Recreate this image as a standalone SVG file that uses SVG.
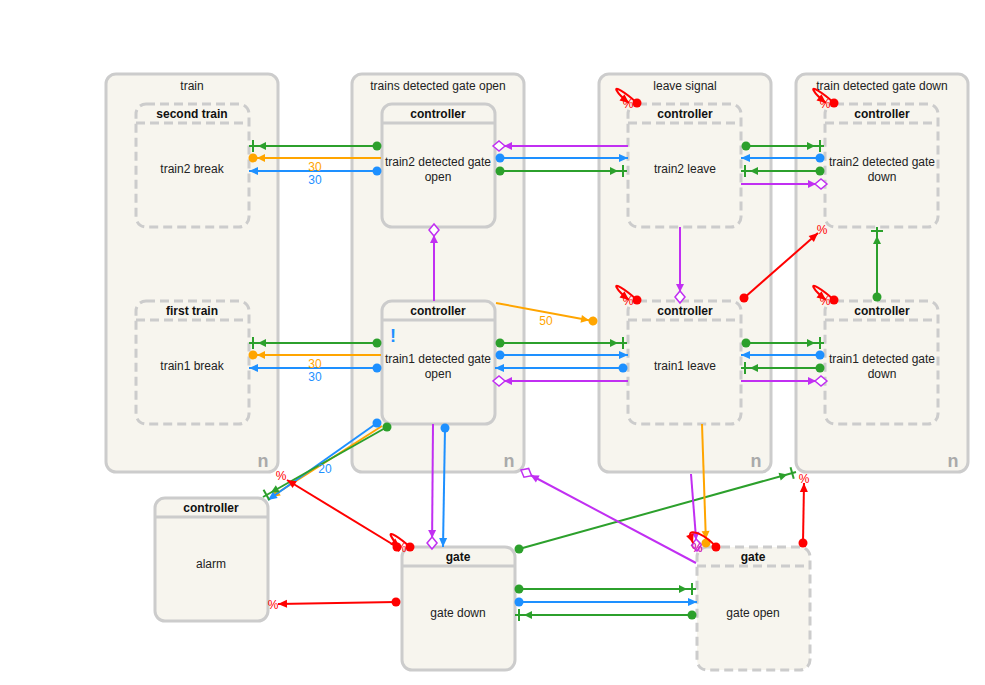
<svg xmlns="http://www.w3.org/2000/svg" width="985" height="685" viewBox="0 0 985 685">
<style>
text{font-family:"Liberation Sans",Arial,sans-serif;font-size:12px;fill:#222;text-anchor:middle}
.hd{font-weight:bold;fill:#111}
.cont{fill:#f7f5ee;stroke:#cccccc;stroke-width:3}
.node{fill:#f7f5ee;stroke:#cccccc;stroke-width:3}
.dash{stroke-dasharray:9,5}
.sep{stroke:#cccccc;stroke-width:3;fill:none}
.nn{font-size:18px;font-weight:bold;fill:#aaaaaa}
.e{fill:none;stroke-width:2}
.g{stroke:#2ca02c}.b{stroke:#1e90ff}.o{stroke:#ffa500}.p{stroke:#c12ff2}.r{stroke:#ff0000}
.tg{fill:#2ca02c}.tb{fill:#1e90ff}.to{fill:#ffa500}.tp{fill:#c12ff2}.tr{fill:#ff0000}
</style>
<defs>
<marker id="aG" markerUnits="userSpaceOnUse" orient="auto" markerWidth="40" markerHeight="30" viewBox="-30 -15 40 30" refX="0" refY="0"><path d="M0,0L-9,-4L-9,4Z" fill="#2ca02c"/></marker>
<marker id="aB" markerUnits="userSpaceOnUse" orient="auto" markerWidth="40" markerHeight="30" viewBox="-30 -15 40 30" refX="0" refY="0"><path d="M0,0L-9,-4L-9,4Z" fill="#1e90ff"/></marker>
<marker id="aO" markerUnits="userSpaceOnUse" orient="auto" markerWidth="40" markerHeight="30" viewBox="-30 -15 40 30" refX="0" refY="0"><path d="M0,0L-9,-4L-9,4Z" fill="#ffa500"/></marker>
<marker id="aP" markerUnits="userSpaceOnUse" orient="auto" markerWidth="40" markerHeight="30" viewBox="-30 -15 40 30" refX="0" refY="0"><path d="M0,0L-9,-4L-9,4Z" fill="#c12ff2"/></marker>
<marker id="aR" markerUnits="userSpaceOnUse" orient="auto" markerWidth="40" markerHeight="30" viewBox="-30 -15 40 30" refX="0" refY="0"><path d="M0,0L-9,-4L-9,4Z" fill="#ff0000"/></marker>
<marker id="abG" markerUnits="userSpaceOnUse" orient="auto" markerWidth="40" markerHeight="30" viewBox="-30 -15 40 30" refX="0" refY="0"><path d="M-4,-6L-4,6" stroke="#2ca02c" stroke-width="2"/><path d="M-9,0L-17,-4L-17,4Z" fill="#2ca02c"/></marker>
<marker id="daO" markerUnits="userSpaceOnUse" orient="auto" markerWidth="40" markerHeight="30" viewBox="-30 -15 40 30" refX="0" refY="0"><circle r="4.5" fill="#ffa500"/><path d="M-4,0L-12,-4L-12,4Z" fill="#ffa500"/></marker>
<marker id="dmP" markerUnits="userSpaceOnUse" orient="auto" markerWidth="40" markerHeight="30" viewBox="-30 -15 40 30" refX="0" refY="0"><path d="M-11,0L-19,-4L-19,4Z" fill="#c12ff2"/><path d="M0,0L-6,-5L-12,0L-6,5Z" fill="#ffffff" stroke="#c12ff2" stroke-width="1.5"/></marker>
<marker id="dG" markerUnits="userSpaceOnUse" markerWidth="12" markerHeight="12" viewBox="-6 -6 12 12" refX="0" refY="0"><circle r="4.5" fill="#2ca02c"/></marker>
<marker id="dB" markerUnits="userSpaceOnUse" markerWidth="12" markerHeight="12" viewBox="-6 -6 12 12" refX="0" refY="0"><circle r="4.5" fill="#1e90ff"/></marker>
<marker id="dR" markerUnits="userSpaceOnUse" markerWidth="12" markerHeight="12" viewBox="-6 -6 12 12" refX="0" refY="0"><circle r="4.5" fill="#ff0000"/></marker>
</defs>
<rect width="985" height="685" fill="#ffffff"/>

<g id="c-train"><rect class="cont" x="106" y="74" width="172" height="398" rx="10"/><text x="192" y="90">train</text><text class="nn" x="263" y="467">n</text></g>
<g id="c-open"><rect class="cont" x="352" y="74" width="172" height="398" rx="10"/><text x="438" y="90">trains detected gate open</text><text class="nn" x="509" y="467">n</text></g>
<g id="c-leave"><rect class="cont" x="599" y="74" width="172" height="398" rx="10"/><text x="685" y="90">leave signal</text><text class="nn" x="756" y="467">n</text></g>
<g id="c-down"><rect class="cont" x="796" y="74" width="172" height="398" rx="10"/><text x="882" y="90">train detected gate down</text><text class="nn" x="953" y="467">n</text></g>

<g id="n-second"><rect class="node dash" x="136" y="104" width="113" height="123" rx="10"/><path class="sep dash" d="M136,123H249"/><text class="hd" x="192" y="118">second train</text><text x="192" y="173">train2 break</text></g>
<g id="n-first"><rect class="node dash" x="136" y="301" width="113" height="123" rx="10"/><path class="sep dash" d="M136,320H249"/><text class="hd" x="192" y="315">first train</text><text x="192" y="370">train1 break</text></g>
<g id="n-t2open"><rect class="node" x="382" y="104" width="113" height="123" rx="10"/><path class="sep" d="M382,123H495"/><text class="hd" x="438" y="118">controller</text><text x="438" y="166">train2 detected gate</text><text x="438" y="181">open</text></g>
<g id="n-t1open"><rect class="node" x="382" y="301" width="113" height="123" rx="10"/><path class="sep" d="M382,320H495"/><text class="hd" x="438" y="315">controller</text><text x="438" y="363">train1 detected gate</text><text x="438" y="378">open</text><text x="393" y="342" style="font-size:18px;font-weight:bold;fill:#1e90ff">!</text></g>
<g id="n-t2leave"><rect class="node dash" x="628" y="104" width="113" height="123" rx="10"/><path class="sep dash" d="M628,123H741"/><text class="hd" x="685" y="118">controller</text><text x="685" y="173">train2 leave</text></g>
<g id="n-t1leave"><rect class="node dash" x="628" y="301" width="113" height="123" rx="10"/><path class="sep dash" d="M628,320H741"/><text class="hd" x="685" y="315">controller</text><text x="685" y="370">train1 leave</text></g>
<g id="n-t2down"><rect class="node dash" x="825" y="104" width="113" height="123" rx="10"/><path class="sep dash" d="M825,123H938"/><text class="hd" x="882" y="118">controller</text><text x="882" y="166">train2 detected gate</text><text x="882" y="181">down</text></g>
<g id="n-t1down"><rect class="node dash" x="825" y="301" width="113" height="123" rx="10"/><path class="sep dash" d="M825,320H938"/><text class="hd" x="882" y="315">controller</text><text x="882" y="363">train1 detected gate</text><text x="882" y="378">down</text></g>
<g id="n-alarm"><rect class="node" x="155" y="498" width="113" height="123" rx="10"/><path class="sep" d="M155,517H268"/><text class="hd" x="211" y="512">controller</text><text x="211" y="568">alarm</text></g>
<g id="n-gatedown"><rect class="node" x="402" y="547" width="113" height="123" rx="10"/><path class="sep" d="M402,566H515"/><text class="hd" x="458" y="561">gate</text><text x="458" y="617">gate down</text></g>
<g id="n-gateopen"><rect class="node dash" x="697" y="547" width="113" height="123" rx="10"/><path class="sep dash" d="M697,566H810"/><text class="hd" x="753" y="561">gate</text><text x="753" y="617">gate open</text></g>

<g id="edges">
<!-- train <-> controller -->
<path class="e g" d="M377,146L249,146" marker-start="url(#dG)" marker-end="url(#abG)"/>
<path class="e o" d="M381,158L253,158" marker-end="url(#daO)"/>
<path class="e b" d="M377,171L249,171" marker-start="url(#dB)" marker-end="url(#aB)"/>
<text class="to" x="315" y="171">30</text><text class="tb" x="315" y="184">30</text>
<path class="e g" d="M377,343L249,343" marker-start="url(#dG)" marker-end="url(#abG)"/>
<path class="e o" d="M381,355L253,355" marker-end="url(#daO)"/>
<path class="e b" d="M377,368L249,368" marker-start="url(#dB)" marker-end="url(#aB)"/>
<text class="to" x="315" y="368">30</text><text class="tb" x="315" y="381">30</text>
<!-- controller open <-> leave -->
<path class="e p" d="M628,146L493,146" marker-end="url(#dmP)"/>
<path class="e b" d="M500,158L628,158" marker-start="url(#dB)" marker-end="url(#aB)"/>
<path class="e g" d="M500,171L627,171" marker-start="url(#dG)" marker-end="url(#abG)"/>
<path class="e g" d="M500,343L627,343" marker-start="url(#dG)" marker-end="url(#abG)"/>
<path class="e b" d="M500,355L628,355" marker-start="url(#dB)" marker-end="url(#aB)"/>
<path class="e b" d="M623,368L495,368" marker-start="url(#dB)" marker-end="url(#aB)"/>
<path class="e p" d="M628,381L493,381" marker-end="url(#dmP)"/>
<!-- leave <-> down -->
<path class="e g" d="M746,146L824,146" marker-start="url(#dG)" marker-end="url(#abG)"/>
<path class="e b" d="M820,158L741,158" marker-start="url(#dB)" marker-end="url(#aB)"/>
<path class="e g" d="M820,171L741,171" marker-start="url(#dG)" marker-end="url(#abG)"/>
<path class="e p" d="M741,184L827,184" marker-end="url(#dmP)"/>
<path class="e g" d="M746,343L824,343" marker-start="url(#dG)" marker-end="url(#abG)"/>
<path class="e b" d="M820,355L741,355" marker-start="url(#dB)" marker-end="url(#aB)"/>
<path class="e g" d="M820,368L741,368" marker-start="url(#dG)" marker-end="url(#abG)"/>
<path class="e p" d="M741,381L827,381" marker-end="url(#dmP)"/>
<!-- verticals -->
<path class="e p" d="M434,301L434,224" marker-end="url(#dmP)"/>
<path class="e p" d="M680,227L680,303" marker-end="url(#dmP)"/>
<path class="e g" d="M877,297L877,227" marker-start="url(#dG)" marker-end="url(#abG)"/>
<path class="e r" d="M744,298L818,233" marker-start="url(#dR)" marker-end="url(#aR)"/>
<text class="tr" x="822" y="234">%</text>
<path class="e o" d="M496,303L593,321" marker-end="url(#daO)"/>
<text class="to" x="546" y="325">50</text>
<!-- self loops -->
<path class="e r" d="M637,103C625,92 613,85 617,91C619,95 624,99 629,103" marker-start="url(#dR)" marker-end="url(#aR)"/>
<text class="tr" x="628" y="108">%</text>
<path class="e r" d="M834,103C822,92 810,85 814,91C816,95 821,99 826,103" marker-start="url(#dR)" marker-end="url(#aR)"/>
<text class="tr" x="825" y="108">%</text>
<path class="e r" d="M637,300C625,289 613,282 617,288C619,292 624,296 629,300" marker-start="url(#dR)" marker-end="url(#aR)"/>
<text class="tr" x="628" y="305">%</text>
<path class="e r" d="M834,300C822,289 810,282 814,288C816,292 821,296 826,300" marker-start="url(#dR)" marker-end="url(#aR)"/>
<text class="tr" x="825" y="305">%</text>
<!-- bottom left -->
<path class="e o" d="M382,426L271,497" marker-end="url(#aO)"/>
<path class="e b" d="M377,423L268,500" marker-start="url(#dB)" marker-end="url(#aB)"/>
<path class="e g" d="M387,427L263,497" marker-start="url(#dG)" marker-end="url(#abG)"/>
<text class="tb" x="325" y="473">20</text>
<path class="e r" d="M397,547L287,480" marker-start="url(#dR)" marker-end="url(#aR)"/>
<text class="tr" x="281" y="480">%</text>
<path class="e r" d="M410,547C400,538 388,530 391,536C393,540 396,544 400,547" marker-start="url(#dR)" marker-end="url(#aR)"/>
<text class="tr" x="401" y="552">%</text>
<path class="e r" d="M396,602L278,604" marker-start="url(#dR)" marker-end="url(#aR)"/>
<text class="tr" x="273" y="609">%</text>
<path class="e p" d="M433,424L432,549" marker-end="url(#dmP)"/>
<path class="e b" d="M445,428L443,547" marker-start="url(#dB)" marker-end="url(#aB)"/>
<!-- bottom right -->
<path class="e g" d="M519,549L796,472" marker-start="url(#dG)" marker-end="url(#abG)"/>
<path class="e r" d="M803,543L804,483" marker-start="url(#dR)" marker-end="url(#aR)"/>
<text class="tr" x="804" y="483">%</text>
<path class="e p" d="M696,563L521,470" marker-end="url(#dmP)"/>
<path class="e p" d="M691,474L697,551" marker-end="url(#dmP)"/>
<path class="e o" d="M702,424L706,543" marker-end="url(#daO)"/>
<path class="e r" d="M716,547C706,535 690,528 690,535L693,543" marker-start="url(#dR)" marker-end="url(#aR)"/>
<text class="tr" x="697" y="552">%</text>
<text class="tp" x="697" y="552">%</text>
<path class="e g" d="M519,589L696,589" marker-start="url(#dG)" marker-end="url(#abG)"/>
<path class="e b" d="M519,602L697,602" marker-start="url(#dB)" marker-end="url(#aB)"/>
<path class="e g" d="M692,615L515,615" marker-start="url(#dG)" marker-end="url(#abG)"/>
</g>
</svg>
